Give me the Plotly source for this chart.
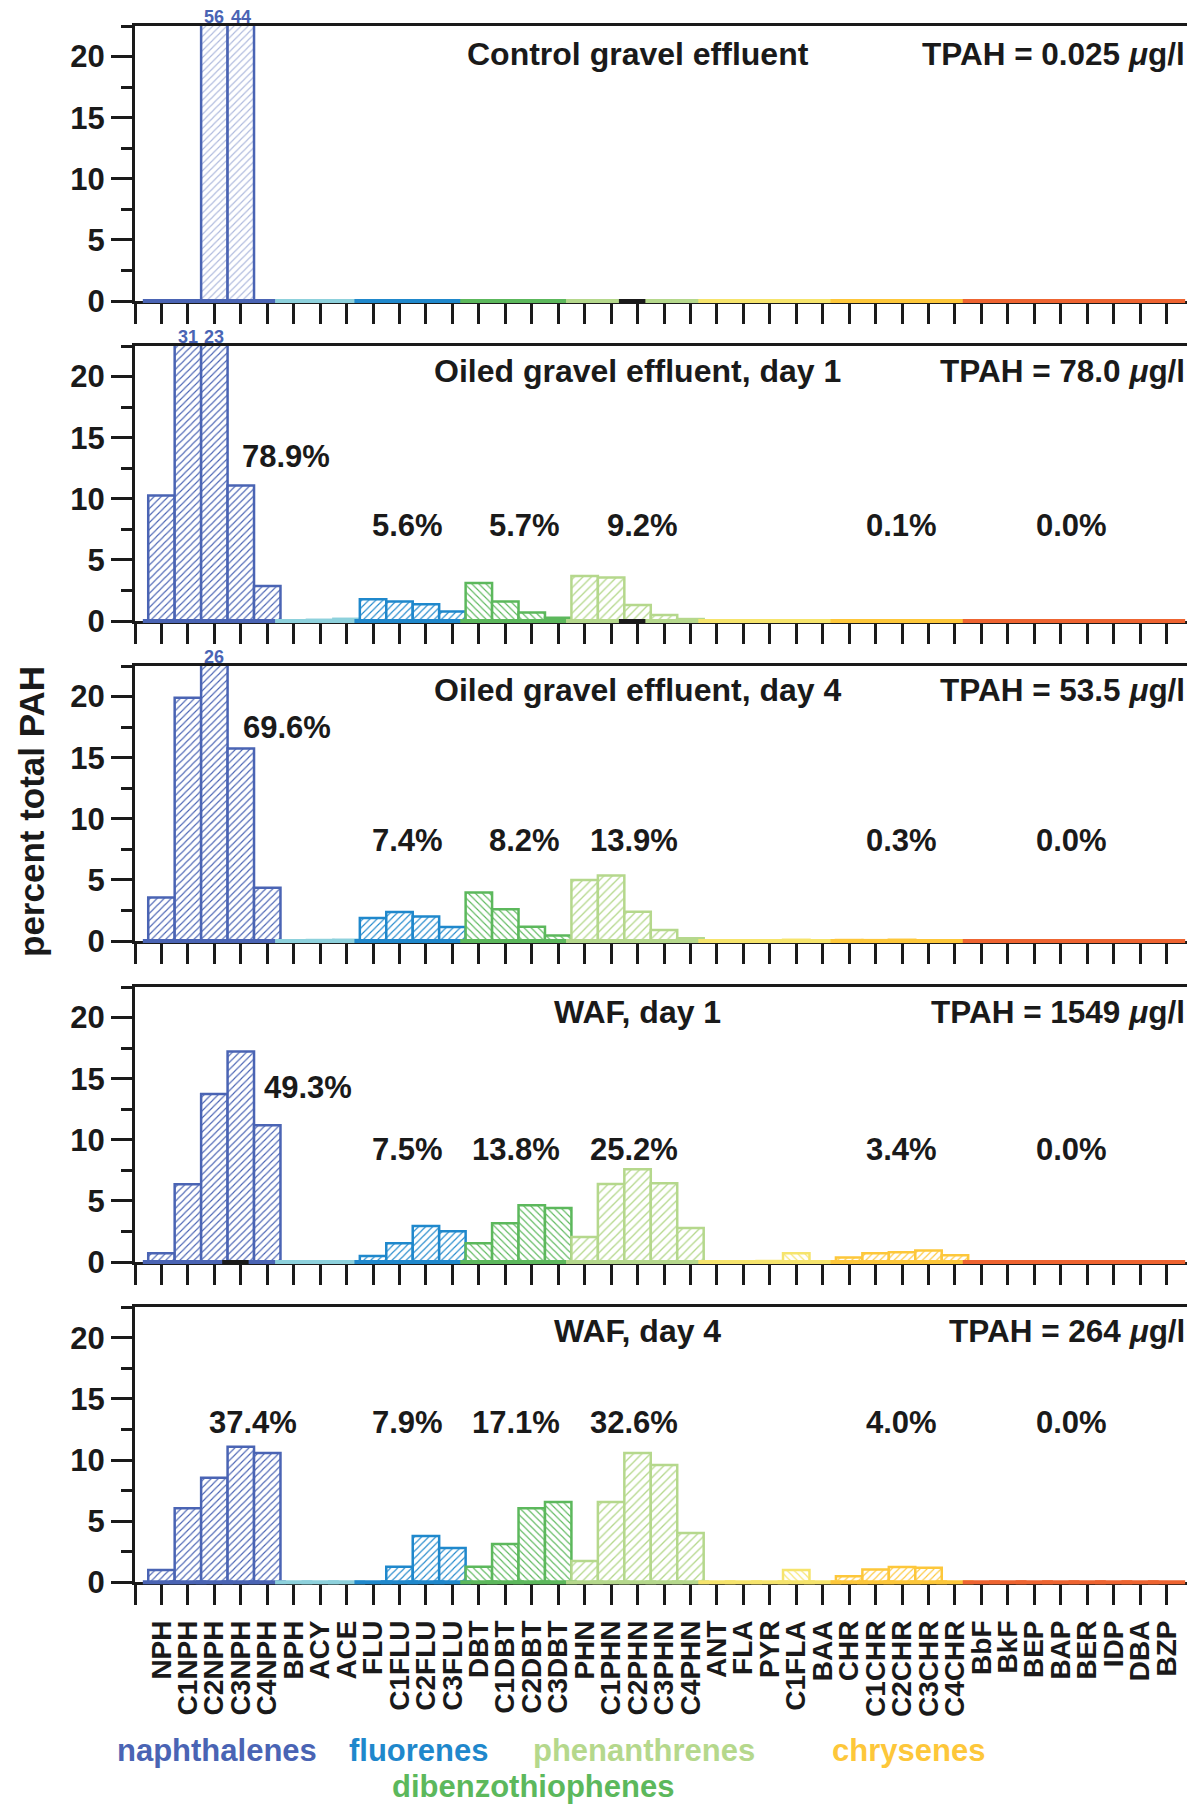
import plotly.graph_objects as go

# ---------------- data ----------------
categories = ["NPH", "C1NPH", "C2NPH", "C3NPH", "C4NPH", "BPH", "ACY", "ACE",
              "FLU", "C1FLU", "C2FLU", "C3FLU", "DBT", "C1DBT", "C2DBT", "C3DBT",
              "PHN", "C1PHN", "C2PHN", "C3PHN", "C4PHN", "ANT", "FLA", "PYR",
              "C1FLA", "BAA", "CHR", "C1CHR", "C2CHR", "C3CHR", "C4CHR", "BbF",
              "BkF", "BEP", "BAP", "BER", "IDP", "DBA", "BZP"]

group_names = ["naphthalenes", "BPH-ACE", "fluorenes", "dibenzothiophenes",
               "phenanthrenes", "ANT-BAA", "chrysenes", "BbF-BZP"]
group_sizes = [5, 3, 4, 4, 5, 5, 5, 8]

panel_titles = ["Control gravel effluent", "Oiled gravel effluent, day 1",
                "Oiled gravel effluent, day 4", "WAF, day 1", "WAF, day 4"]
tpah_values = ["0.025", "78.0", "53.5", "1549", "264"]

control = [0, 0, 56, 44, 0, 0, 0, 0, 0, 0, 0, 0, 0, 0, 0, 0, 0, 0, 0, 0, 0,
           0, 0, 0, 0, 0, 0, 0, 0, 0, 0, 0, 0, 0, 0, 0, 0, 0, 0]
oiled_day1 = [10.26, 31, 23, 11.08, 2.86, 0.03, 0.1, 0.18, 1.77, 1.6, 1.38, 0.78,
              3.11, 1.6, 0.7, 0.27, 3.68, 3.55, 1.31, 0.49, 0.16,
              0.03, 0.04, 0.06, 0.05, 0.03, 0.05, 0.03, 0.02, 0.02, 0.01,
              0, 0, 0, 0, 0, 0, 0, 0]
oiled_day4 = [3.56, 19.9, 26, 15.76, 4.35, 0.02, 0.08, 0.1, 1.88, 2.38, 2.0, 1.14,
              3.96, 2.6, 1.17, 0.46, 5.0, 5.36, 2.4, 0.9, 0.22,
              0.03, 0.05, 0.05, 0.1, 0.03, 0.08, 0.07, 0.1, 0.06, 0.03,
              0, 0, 0, 0, 0, 0, 0, 0]
waf_day1 = [0.71, 6.36, 13.75, 17.22, 11.19, 0, 0, 0, 0.49, 1.53, 2.95, 2.51,
            1.53, 3.17, 4.64, 4.42, 2.05, 6.38, 7.59, 6.44, 2.78,
            0, 0, 0.08, 0.72, 0, 0.36, 0.72, 0.8, 0.94, 0.55,
            0, 0, 0, 0, 0, 0, 0, 0]
waf_day4 = [1.0, 6.05, 8.56, 11.09, 10.57, 0, 0, 0, 0, 1.28, 3.79, 2.81,
            1.28, 3.13, 6.05, 6.57, 1.74, 6.57, 10.57, 9.59, 4.03,
            0, 0, 0, 1.0, 0, 0.5, 1.05, 1.25, 1.2, 0,
            0, 0, 0, 0, 0, 0, 0, 0]
panel_values = [control, oiled_day1, oiled_day4, waf_day1, waf_day4]

pct_groups = ["naphthalenes", "fluorenes", "dibenzothiophenes", "phenanthrenes",
              "chrysenes", "BbF-BZP"]
pct_oiled_day1 = [78.9, 5.6, 5.7, 9.2, 0.1, 0.0]
pct_oiled_day4 = [69.6, 7.4, 8.2, 13.9, 0.3, 0.0]
pct_waf_day1 = [49.3, 7.5, 13.8, 25.2, 3.4, 0.0]
pct_waf_day4 = [37.4, 7.9, 17.1, 32.6, 4.0, 0.0]
panel_pcts = [None, pct_oiled_day1, pct_oiled_day4, pct_waf_day1, pct_waf_day4]

bottom_labels = ["naphthalenes", "fluorenes", "phenanthrenes", "chrysenes",
                 "dibenzothiophenes"]

# ---------------- styles / layout ----------------
# the page body adds an 8 px offset, so the figure is 8 px smaller and shifted
OFF = 8
W, H = 1195 - OFF, 1806 - OFF
ML = 135 - OFF
MR = W - (1193 - OFF)
FONT = "Liberation Sans, Arial, Helvetica, sans-serif"
INK = "#1a1a1a"
YMAX = 22.5
zero_px = [z - OFF for z in (301, 621, 941, 1262, 1582.3)]
panel_h = 275

group_colors = {"naphthalenes": "#4a64b4", "BPH-ACE": "#8dd1dc",
                "fluorenes": "#1f88cc", "dibenzothiophenes": "#5cb85c",
                "phenanthrenes": "#b5d88c", "ANT-BAA": "#f6e46c",
                "chrysenes": "#fdc73a", "BbF-BZP": "#ee6431"}
group_hatch = {"naphthalenes": "/", "BPH-ACE": "/", "fluorenes": "/",
               "dibenzothiophenes": "\\", "phenanthrenes": "/", "ANT-BAA": "\\",
               "chrysenes": "/", "BbF-BZP": "/"}
hatch_size = {"naphthalenes": 5, "BPH-ACE": 5, "fluorenes": 5,
              "dibenzothiophenes": 5, "phenanthrenes": 6, "ANT-BAA": 5,
              "chrysenes": 5, "BbF-BZP": 5}
# baseline pieces that are left uncoloured (black axis shows) in the original
baseline_gaps = {0: [18], 1: [18], 3: [3]}

# category -> group
cat_group = []
for name, n in zip(group_names, group_sizes):
    cat_group += [name] * n
cat_colors = [group_colors[g] for g in cat_group]

# percent-label placement (data units)
pct_x_naph = [None, 2.96, 3.0, 3.82, 1.73]
pct_x_right = [10.71, 15.15, 19.59, 29.39, 35.84]
pct_y_naph = [None, 13.45, 17.43, 14.24, 13.05]
pct_y_other = [None, 7.81, 8.22, 9.17, 13.05]
title_y = [20.2, 20.47, 20.54, 20.42, 20.58]
bottom_label_x = {"naphthalenes": 2.1, "fluorenes": 9.72, "phenanthrenes": 18.24,
                  "chrysenes": 28.26, "dibenzothiophenes": 14.06}
bottom_label_ypx = {"naphthalenes": 1750, "fluorenes": 1750, "phenanthrenes": 1750,
                    "chrysenes": 1750, "dibenzothiophenes": 1786}

fig = go.Figure()
annotations = []
layout_axes = {}

for p, vals in enumerate(panel_values):
    sfx = "" if p == 0 else str(p + 1)
    xa, ya = "x" + sfx, "y" + sfx
    for g in group_names:
        idx = [i for i, cg in enumerate(cat_group) if cg == g]
        col = group_colors[g]
        fig.add_trace(go.Bar(
            x=idx, y=[vals[i] for i in idx], width=1,
            xaxis=xa, yaxis=ya, showlegend=False, hoverinfo="skip",
            marker=dict(color=col, line=dict(color=col, width=2.5),
                        pattern=dict(shape=group_hatch[g], fgcolor=col,
                                     bgcolor="white", size=hatch_size[g],
                                     solidity=0.22,
                                     fgopacity=0.45 if p == 0 else 1.0)),
        ))
    # coloured baseline under every category
    base_cols = [INK if i in baseline_gaps.get(p, []) else c
                 for i, c in enumerate(cat_colors)]
    fig.add_trace(go.Scatter(
        x=list(range(len(categories))), y=[0] * len(categories),
        mode="markers", xaxis=xa, yaxis=ya, showlegend=False, hoverinfo="skip",
        cliponaxis=False,
        marker=dict(symbol="line-ew", size=26.6, color=base_cols,
                    line=dict(color=base_cols, width=4)),
    ))

    top_px = zero_px[p] - panel_h
    layout_axes["xaxis" + sfx] = dict(
        domain=[0, 1], range=[-1, 39], anchor=ya,
        tickmode="array", tickvals=list(range(-1, len(categories))),
        ticktext=[""] + categories, ticks="outside", ticklen=20, tickwidth=2.5,
        tickcolor=INK, showline=True, linewidth=3, linecolor=INK, mirror=True,
        showgrid=False, zeroline=False, showticklabels=(p == 4), tickangle=-90,
        tickfont=dict(size=28, family=FONT, color=INK, weight="bold"),
        ticklabelstandoff=4, layer="below traces", fixedrange=True,
    )
    layout_axes["yaxis" + sfx] = dict(
        domain=[1 - zero_px[p] / H, 1 - top_px / H], range=[0, YMAX], anchor=xa,
        tickmode="array", tickvals=[0, 5, 10, 15, 20], ticks="outside",
        ticklen=21, tickwidth=3, tickcolor=INK,
        minor=dict(tickmode="linear", tick0=0, dtick=2.5, ticks="outside",
                   ticklen=11, tickwidth=3, tickcolor=INK),
        showline=True, linewidth=3, linecolor=INK, mirror=True,
        showgrid=False, zeroline=False,
        tickfont=dict(size=31, family=FONT, color=INK, weight="bold"),
        layer="below traces", fixedrange=True,
    )

    # panel title and TPAH
    annotations.append(dict(x=18, y=title_y[p], xref=xa, yref=ya,
                            text=panel_titles[p], showarrow=False,
                            xanchor="center", yanchor="middle",
                            font=dict(size=32, family=FONT, color=INK, weight="bold")))
    annotations.append(dict(x=1, y=title_y[p], xref=xa + " domain", yref=ya,
                            text="TPAH = " + tpah_values[p] + " <i>μ</i>g/l",
                            showarrow=False, xanchor="right", yanchor="middle",
                            xshift=-6,
                            font=dict(size=31.5, family=FONT, color=INK, weight="bold")))
    # values beyond the axis
    for i, v in enumerate(vals):
        if v > YMAX:
            annotations.append(dict(x=i, y=YMAX, xref=xa, yref=ya,
                                    text=str(int(round(v))), showarrow=False,
                                    xanchor="center", yanchor="bottom", yshift=-2,
                                    borderpad=0,
                                    font=dict(size=18, family=FONT,
                                              color=cat_colors[i], weight="bold")))
    # group percentages
    pcts = panel_pcts[p]
    if pcts is not None:
        for k, v in enumerate(pcts):
            if k == 0:
                x, y, anc = pct_x_naph[p], pct_y_naph[p], "left"
            else:
                x, y, anc = pct_x_right[k - 1], pct_y_other[p], "right"
            annotations.append(dict(x=x, y=y, xref=xa, yref=ya,
                                    text=f"{v:.1f}%", showarrow=False,
                                    xanchor=anc, yanchor="middle",
                                    font=dict(size=31, family=FONT, color=INK,
                                              weight="bold")))

# y-axis title
annotations.append(dict(x=0, y=1 - (812 - OFF) / H, xref="paper", yref="paper",
                        xshift=-104, text="percent total PAH", textangle=-90,
                        showarrow=False, xanchor="center", yanchor="middle",
                        font=dict(size=35, family=FONT, color=INK, weight="bold")))
# group name labels below the bottom panel
for g in bottom_labels:
    annotations.append(dict(x=bottom_label_x[g], y=1 - (bottom_label_ypx[g] - OFF) / H,
                            xref="x5", yref="paper", text=g, showarrow=False,
                            xanchor="center", yanchor="middle",
                            font=dict(size=31, family=FONT, color=group_colors[g],
                                      weight="bold")))

fig.update_layout(
    width=W, height=H, margin=dict(l=ML, r=MR, t=0, b=0, pad=0, autoexpand=False),
    paper_bgcolor="white", plot_bgcolor="white", barmode="overlay",
    annotations=annotations, showlegend=False, **layout_axes,
)

fig.write_html("out.html")
